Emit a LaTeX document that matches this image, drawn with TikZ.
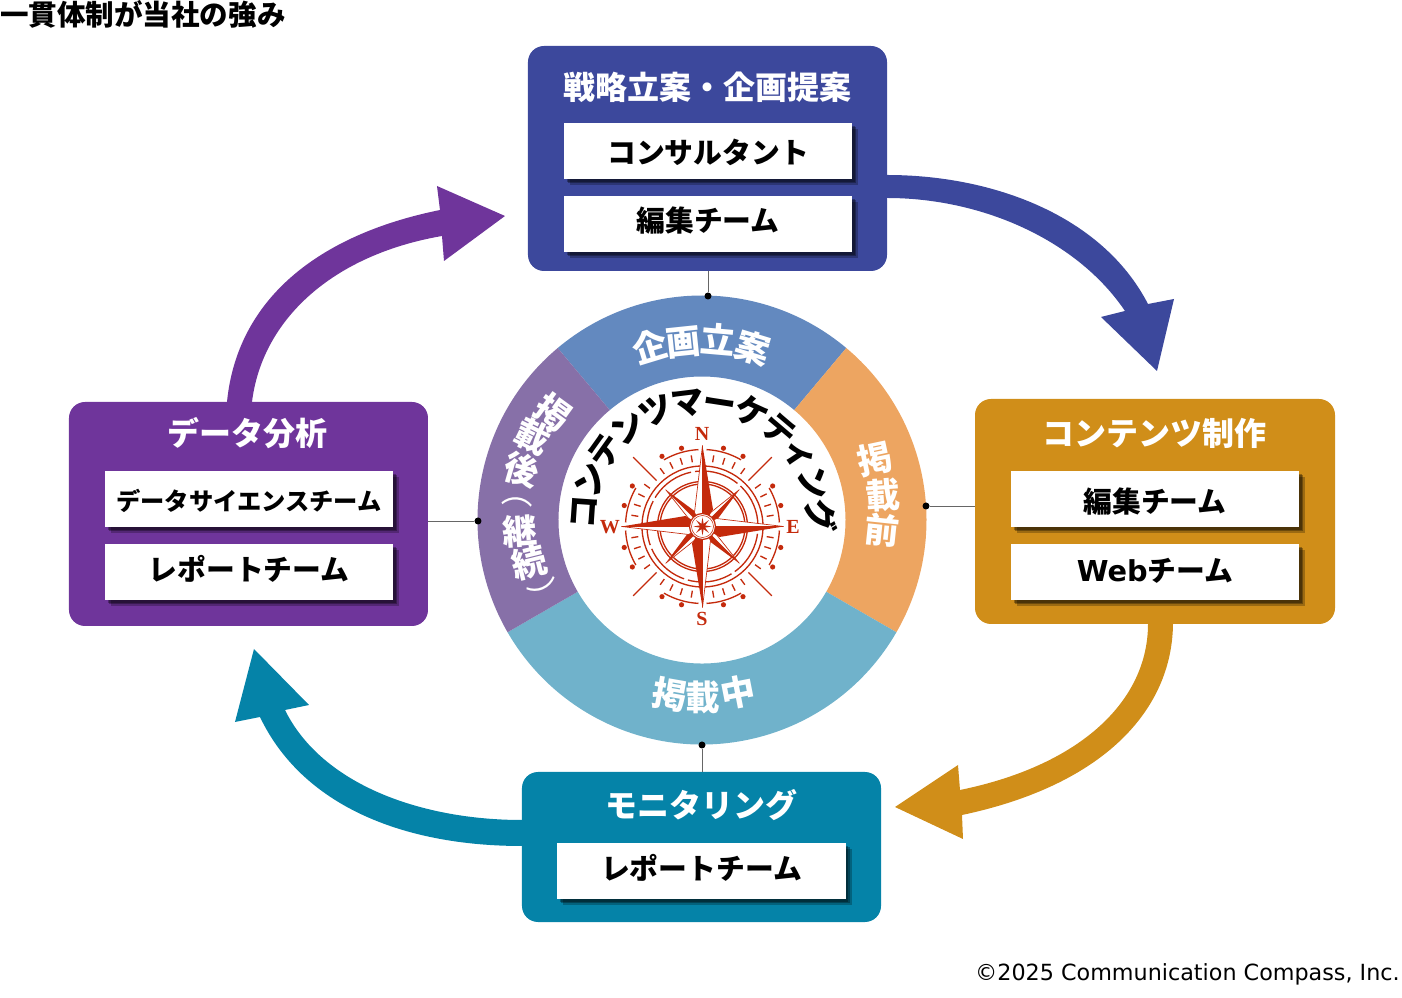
\documentclass[tikz,border=0pt]{standalone}
\usepackage{fontspec}
\setmainfont{Noto Sans CJK JP}
\newfontfamily\compassfont{Liberation Serif}
\newfontfamily\creditfont{DejaVu Sans}
\usetikzlibrary{shadows}
\definecolor{planblue}{HTML}{3C489C}
\definecolor{makegold}{HTML}{D08E19}
\definecolor{watchteal}{HTML}{0583A8}
\definecolor{datapurple}{HTML}{6F359B}
\definecolor{ringblue}{HTML}{6389BF}
\definecolor{ringorange}{HTML}{EDA561}
\definecolor{ringsky}{HTML}{70B2CB}
\definecolor{ringpurple}{HTML}{8770A8}
\definecolor{compassred}{HTML}{C42A0C}
\newcommand{\px}{0.75pt}
\newcommand{\ringpart}[3]
{   \fill[#1] (#2:224.5) arc (#2:#3:224.5) -- (#3:143.5) arc (#3:#2:143.5) -- cycle;
}
\tikzset{
  panel/.style 2 args={draw=none,rounded corners=12pt,inner sep=0pt,minimum width=#1*\px,minimum height=#2*\px},
  slip/.style={fill=white,inner sep=0pt,minimum width=288*\px,minimum height=56*\px,text=black,
    text height=17pt,text depth=3pt,
    font=\fontsize{21.6}{24}\bfseries,
    drop shadow={shadow xshift=2pt,shadow yshift=-2pt,fill=black,opacity=.3},
    drop shadow={shadow xshift=3pt,shadow yshift=-3pt,fill=black,opacity=.3},
    drop shadow={shadow xshift=4.5pt,shadow yshift=-4.5pt,fill=black,opacity=.25}},
  head/.style={text=white,inner sep=0pt,text height=22pt,text depth=3.5pt,font=\fontsize{24}{26}\bfseries},
  ringglyph/.style={inner sep=0pt,text width=26pt,align=center,text height=22.5pt,text depth=3.5pt,
    text=white,font=\fontsize{26}{28}\bfseries},
  arcglyph/.style={inner sep=0pt,text width=25pt,align=center,text height=22pt,text depth=3pt,
    text=black,font=\fontsize{25}{27}\bfseries},
  tie/.style={draw=black!60,line width=0.6pt},
  stud/.style={circle,fill=black,inner sep=0pt,minimum size=7*\px},
  cardinal/.style={text=compassred,inner sep=0pt,font=\fontsize{15}{17}\compassfont\bfseries},
  rline/.style={draw=compassred,line width=1pt}
}
\begin{document}
\begin{tikzpicture}[x=0.75pt,y=0.75pt]
 \useasboundingbox (-702,520) rectangle (700,-478);

 % flow arrows
 \fill[planblue] (185,345) .. controls (290,345) and (400,305) .. (446,216) -- (472,221) -- (455,149) -- (399,203) -- (423,209) .. controls (375,280) and (280,322) .. (185,322) -- cycle;
 \fill[makegold] (471,-104) .. controls (470,-190) and (402,-265) .. (260,-295) -- (261,-319) -- (193,-287) -- (256,-245) -- (258,-270) .. controls (380,-245) and (446,-180) .. (446,-104) -- cycle;
 \fill[watchteal] (-180,-326) .. controls (-300,-326) and (-400,-285) .. (-442,-197) -- (-467,-202) -- (-448,-129) -- (-393,-185) -- (-417,-190) .. controls (-380,-265) and (-280,-300) .. (-180,-300) -- cycle;
 \fill[datapurple] (-475,118) .. controls (-465,220) and (-385,285) .. (-262,310) -- (-265,334) -- (-197,304) -- (-258,259) -- (-260,284) .. controls (-370,265) and (-440,200) .. (-450,118) -- cycle;

 % ring
 \ringpart{ringblue}{130}{50}
 \ringpart{ringorange}{50}{-30}
 \ringpart{ringsky}{-30}{-150}
 \ringpart{ringpurple}{-150}{-230}

 \foreach \ch/\xx/\yy/\rr [count=\i] in {企/-52/173/17,画/-19/178/6,立/16/180/-5,案/51/172/-17}
   \node[ringglyph,rotate=\rr] (plan\i) at (\xx,\yy) {\ch};
 \foreach \ch/\xx/\yy/\rr [count=\i] in {掲/173/60/12,載/181/24/4,前/180/-11/-6}
   \node[ringglyph,rotate=\rr] (before\i) at (\xx,\yy) {\ch};
 \foreach \ch/\xx/\yy/\rr [count=\i] in {掲/-32/-175/-10,載/1/-178/0,中/36/-173/11}
   \node[ringglyph,rotate=\rr] (during\i) at (\xx,\yy) {\ch};
 \foreach \ch/\xx/\yy/\rr [count=\i] in {掲/-149/108/-36,載/-169/83/-26,後/-180/50/-16,継/-182/-12/4,続/-173/-43/14}
   \node[ringglyph,rotate=\rr] (after\i) at (\xx,\yy) {\ch};
 \node[ringglyph,font=\fontsize{24}{26}\selectfont,rotate=-95] (openparen) at (-183,28) {（};
 \node[ringglyph,font=\fontsize{24}{26}\selectfont,rotate=-67] (closeparen) at (-156,-75) {）};

 % title on the inner circle
 \foreach \ch [count=\i from 0] in {コ,ン,テ,ン,ツ,マ,ー,ケ,テ,ィ,ン,グ}
   \node[arcglyph,rotate={86-\i*15.8}] (title\i) at ({176-\i*15.8}:119) {\ch};

 % compass
 \begin{scope}[shift={(0.5,-6.5)}]
   \draw[rline] (0,0) circle (60.5);
   \draw[rline,dash pattern=on 34pt off 3pt] (0,0) circle (55.5);
   \draw[rline] (0,0) circle (45);
   \draw[rline] (0,0) circle (42.5);
   \foreach \a in {0,90,180,270}
   {
     \draw[rline] (\a+3:77) arc (\a+3:\a+30:77);
     \draw[rline] (\a-3:77) arc (\a-3:\a-30:77);
     \draw[rline] (\a+45:65) -- (\a+45:98);
     \foreach \t in {-36,-27,-18,-9,9,18,27,36}
       \draw[rline] (\a+\t:65) -- (\a+\t:72);
     \foreach \t in {-30,-15,15,30}
       \fill[compassred] (\a+\t:81) circle (2.6);
     % short arms
     \begin{scope}[rotate=\a+45]
       \filldraw[fill=white,draw=compassred,line width=0.5pt] (52,0) -- (8,5) -- (0,0) -- cycle;
       \fill[compassred] (52,0) -- (12,-6) -- (0,0) -- cycle;
     \end{scope}
   }
   \foreach \a in {0,90,180,270}
   {
     \begin{scope}[rotate=\a]
       \filldraw[fill=white,draw=compassred,line width=0.5pt] (0,81) -- (-8,14) -- (0,0) -- cycle;
       \fill[compassred] (0,81) -- (10.5,17) -- (0,0) -- cycle;
     \end{scope}
   }
   \filldraw[fill=white,draw=compassred,line width=0.9pt] (0,0) circle (13);
   \draw[compassred,line width=0.4pt] (0,0) circle (11);
   \foreach \a in {0,45,...,315}
     \fill[compassred,rotate=\a] (9,0) -- (0,1.6) -- (0,-1.6) -- cycle;
 \end{scope}
 \node[cardinal] (north) at (0,86) {N};
 \node[cardinal] (south) at (0,-99) {S};
 \node[cardinal] (west) at (-92,-7) {W};
 \node[cardinal] (east) at (91,-7) {E};

 % cards
 \node[panel={359}{225},fill=planblue] (cardPlan) at (5.5,361.5) {};
 \node[panel={360}{225},fill=makegold] (cardMake) at (453,8.5) {};
 \node[panel={359}{224},fill=datapurple] (cardData) at (-453.5,6) {};
 \node[panel={359}{150},fill=watchteal] (cardWatch) at (-0.5,-327) {};

 \node[head] (headPlan) at (6,433) {戦略立案・企画提案};
 \node[head] (headMake) at (452,87) {コンテンツ制作};
 \node[head] (headData) at (-454,87) {データ分析};
 \node[head] (headWatch) at (0,-285) {モニタリング};

 \node[slip,text height=21.5pt] (slipConsult) at (6,369) {コンサルタント\hspace{3pt}};
 \node[slip,text height=14pt] (slipEditA) at (6,296) {編集チーム};
 \node[slip,text height=23pt] (slipEditB) at (453,20.5) {編集チーム};
 \node[slip] (slipWeb) at (453,-52.5) {{\creditfont\bfseries Web}チーム};
 \node[slip,text height=20pt,font=\fontsize{18.2}{20}\bfseries] (slipScience) at (-453,21) {データサイエンスチーム};
 \node[slip,text height=15.5pt] (slipReportA) at (-453,-52) {レポートチーム};
 \node[slip,text height=15.5pt] (slipReportB) at (-0.5,-351) {レポートチーム};

 % ties
 \node[stud] (studTop) at (6,224) {};
 \node[stud] (studRight) at (224,14) {};
 \node[stud] (studLeft) at (-224,-1) {};
 \node[stud] (studBottom) at (0,-225) {};
 \draw[tie] (studTop |- cardPlan.south) -- (studTop);
 \draw[tie] (studRight) -- (studRight -| cardMake.west);
 \draw[tie] (studLeft -| cardData.east) -- (studLeft);
 \draw[tie] (studBottom) -- (studBottom |- cardWatch.north);

 \node[anchor=west,inner sep=0pt,font=\fontsize{21.4}{24}\bfseries] (pageTitle) at (-702,506) {一貫体制が当社の強み};
 \node[anchor=east,inner sep=0pt,font=\fontsize{16.7}{20}\creditfont] (credit) at (698,-454) {©2025 Communication Compass, Inc.};
\end{tikzpicture}
\end{document}
